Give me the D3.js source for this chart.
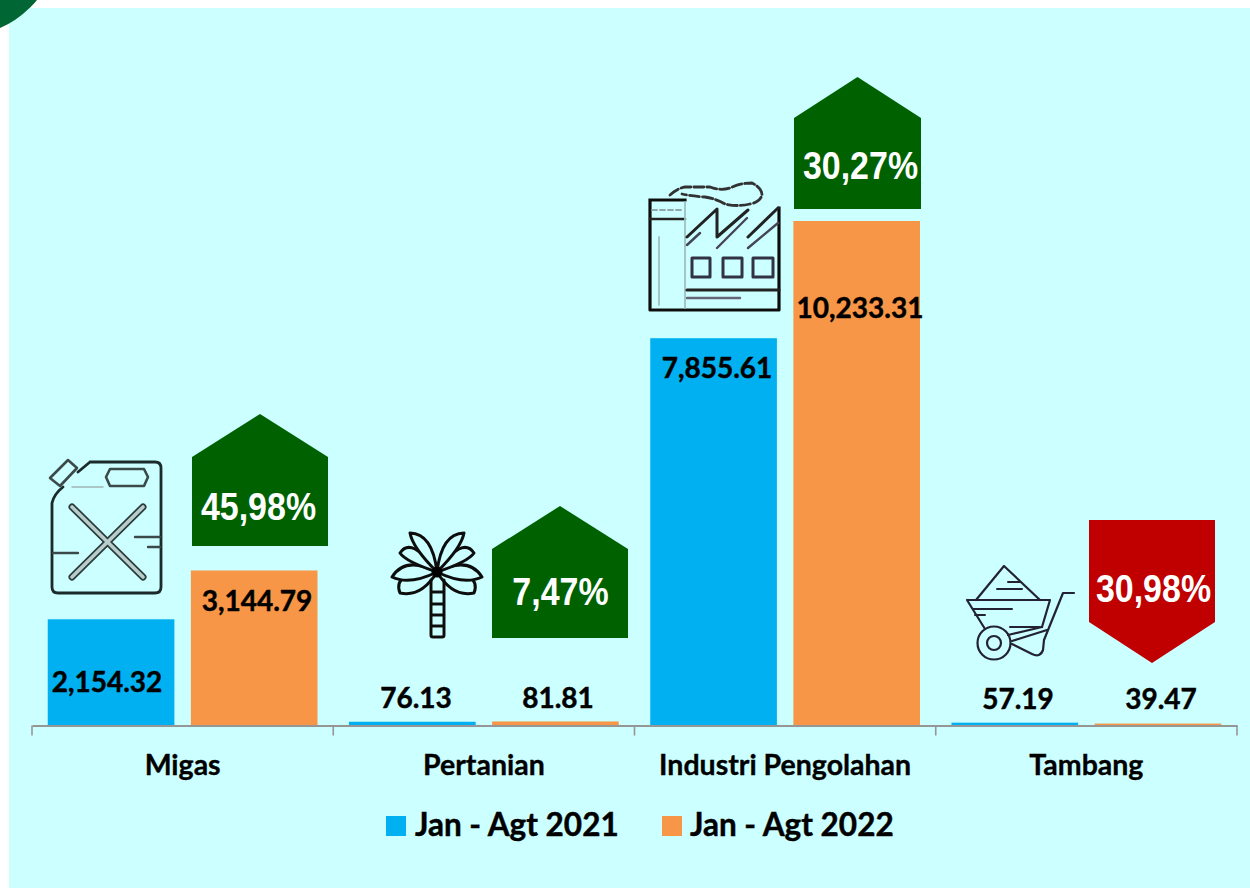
<!DOCTYPE html>
<html><head><meta charset="utf-8">
<script src="https://cdnjs.cloudflare.com/ajax/libs/d3/7.8.5/d3.min.js"></script>
<style>html,body{margin:0;padding:0;background:#fff}svg{display:block}</style>
</head><body><svg id="c" width="1250" height="888"></svg>
<script>
// ---- data ----
const categories = ["Migas", "Pertanian", "Industri Pengolahan", "Tambang"];
const seriesNames = ["Jan - Agt 2021", "Jan - Agt 2022"];
const values2021 = [2154.32, 76.13, 7855.61, 57.19];
const values2022 = [3144.79, 81.81, 10233.31, 39.47];
const changeLabels = ["45,98%", "7,47%", "30,27%", "30,98%"];
const changeDirections = ["up", "up", "up", "down"];
// ---- style / layout ----
const seriesColors = ["#00B0F0", "#F79646"];
const FONT = "Lato, Carlito, sans-serif";
const NARROW = "'Liberation Sans', sans-serif";
const valueFmt = d3.format(",.2f");
const svg = d3.select("#c");
const defs = svg.append("defs");
defs.append("filter").attr("id","soft").append("feGaussianBlur").attr("stdDeviation",0.55);

svg.append("rect").attr("x",9).attr("y",8).attr("width",1241).attr("height",880).attr("fill","#CCFFFF");
svg.append("circle").attr("cx",-40).attr("cy",-63).attr("r",99.5).attr("fill","#006633");

const x0 = d3.scaleBand().domain(categories).range([32,1237]);
const x1 = d3.scaleBand().domain([0,1]).range([0,x0.step()]).paddingInner(0.115).paddingOuter(0.11);
const y = d3.scaleLinear().domain([0,12000]).range([725.5,133.9]);
const series = [values2021, values2022];

series.forEach((vals,s)=>{
  svg.append("g").selectAll("rect").data(vals).join("rect")
    .attr("x",(d,i)=>x0(categories[i])+x1(s))
    .attr("width",x1.bandwidth())
    .attr("y",d=>y(d))
    .attr("height",d=>y(0)-y(d))
    .attr("fill",seriesColors[s]);
});

// axis
const axis = d3.axisBottom(x0).tickSize(0).tickPadding(29);
const ax = svg.append("g").attr("transform",`translate(0,${y(0)})`).call(axis);
ax.select(".domain").attr("stroke","#969696").attr("stroke-width",2);
ax.selectAll("text").attr("font-family",FONT).attr("font-weight",700).attr("font-size",28.5).attr("fill","#000")
  .attr("stroke","#000").attr("stroke-width",0.35);
svg.append("g").selectAll("line").data(d3.range(categories.length+1)).join("line")
  .attr("x1",i=>32+i*x0.step()).attr("x2",i=>32+i*x0.step())
  .attr("y1",y(0)).attr("y2",y(0)+10).attr("stroke","#969696").attr("stroke-width",1.6);

// value label anchors
const labelPos = [
  [[107,692],[257,611]],
  [[416,708],[558,708]],
  [[717,378],[860,318]],
  [[1018,709],[1161,709]]
];
series.forEach((vals,s)=>{
  svg.append("g").selectAll("text").data(vals).join("text")
    .attr("x",(d,i)=>labelPos[i][s][0]).attr("y",(d,i)=>labelPos[i][s][1])
    .attr("text-anchor","middle").attr("font-family",FONT).attr("font-weight",700)
    .attr("font-size",28).attr("fill","#000").attr("stroke","#000").attr("stroke-width",0.45).text(d=>valueFmt(d));
});

// change arrows
const arrowBoxes = [
  {l:192,r:328,tip:414,sh:457,end:546,tx:258.5,ty:520},
  {l:492,r:628,tip:506,sh:549,end:638,tx:560.5,ty:605},
  {l:794,r:921,tip:77,sh:118,end:209,tx:860.5,ty:179},
  {l:1089,r:1215,tip:663,sh:622,end:520,tx:1153.5,ty:602}
];
const ga = svg.append("g");
arrowBoxes.forEach((b,i)=>{
  const mid=(b.l+b.r)/2;
  ga.append("path").attr("d",`M${b.l},${b.end}L${b.l},${b.sh}L${mid},${b.tip}L${b.r},${b.sh}L${b.r},${b.end}Z`)
    .attr("fill",changeDirections[i]==="up"?"#006100":"#C00000");
  ga.append("text").attr("transform",`translate(${b.tx},${b.ty}) scale(0.86,1)`).attr("text-anchor","middle")
    .attr("font-family",NARROW).attr("font-weight",700).attr("font-size",39.5).attr("fill","#fff").text(changeLabels[i]);
});

// legend
const legendPos=[[386,415],[662,690]];
seriesNames.forEach((n,i)=>{
  svg.append("rect").attr("x",legendPos[i][0]).attr("y",816).attr("width",20).attr("height",20).attr("fill",seriesColors[i]);
  svg.append("text").attr("x",legendPos[i][1]).attr("y",836).attr("font-family",FONT).attr("font-weight",700)
    .attr("font-size",31.5).attr("fill","#000").attr("stroke","#000").attr("stroke-width",0.45).text(n);
});

// icons (decorative)
const icons = svg.append("g").attr("filter","url(#soft)");
const ink="#1a2a2a";
const icon=(d,w,c=ink,extra={})=>{const p=icons.append("path").attr("d",d).attr("fill","none").attr("stroke",c).attr("stroke-width",w).attr("stroke-linecap","round").attr("stroke-linejoin","round");Object.entries(extra).forEach(([k,v])=>p.attr(k,v));return p;};
// jerry can
icon("M90,462H155Q161,462 161,468V587Q161,593 155,593H58Q52,593 52,587V503Q54,494 63,487M78,472L90,462",2.8);
icon("M50,478L68,460L77,468L60,486Z",2.6,"#3a4a4a");
icon("M110,469H144L148,477L144,486H110L106,477Z",2.6,"#3a4a4a");
icon("M72,507L143,577M143,507L72,577",7,"#2a3a3a");
icon("M72,507L143,577M143,507L72,577",3.6,"#b8cccc");
icon("M53,553H78M135,537H160M148,547H160",2.4,"#3a4a4a");
icon("M72,487H103",1.5,"#a0b4b4");
// palm
const cx=437,cy=572;
const leaves=[[400,593,391.5,571.5,421.5,597.5],[392,577,405.5,555.5,409.5,585.5],[400,553,411.5,535.5,405.5,561.5],[410,533,432.5,533.5,412.5,547.5]];
leaves.forEach(([tx,ty,ax1,ay1,bx,by])=>{
  [[tx,ty,ax1,ay1,bx,by],[2*cx-tx,ty,2*cx-ax1,ay1,2*cx-bx,by]].forEach(([a,b,c,d,e,f])=>{
    icons.append("path").attr("d",`M${cx},${cy}Q${c},${d} ${a},${b}Q${e},${f} ${cx},${cy}Z`)
      .attr("fill","#CCFFFF").attr("stroke","#111").attr("stroke-width",3).attr("stroke-linejoin","round");
  });
});
icons.append("circle").attr("cx",cx).attr("cy",cy).attr("r",5.5).attr("fill","#000");
icon("M431,580V635Q431,637 433,637H442Q444,637 444,635V580M431,592H444M431,604H444M431,615H444M431,626H444",3,"#111");
// factory
icon("M650,200H685M650,200V310H779V208",3.2,"#111",{"stroke-linecap":"square"});
icon("M650,219H685",2.6,"#222");
icon("M652,210H684",1.8,"#90a8a8",{"stroke-dasharray":"5 3"});
icon("M659,237V305M685,202V308",1.8,"#a0c0c0");
icon("M687,237L717,209L717,237L748,210M748,237L778,208",3,"#222");
icon("M687,245L700,233M717,248L747,218M748,248L778,223",2.4,"#445");
icon("M692,258H710V277H692ZM723,258H742V277H723ZM753,258H773V277H753Z",3,"#334");
icon("M687,290H779",3.2,"#222");
icon("M687,298H740",2.4,"#667");
icon("M670,195Q678,188 685,187H710Q720,191 730,188Q740,183 752,183Q762,188 762,195Q760,202 750,204Q737,207 725,204Q717,199 705,197Q690,196 682,194",2.8,"#333",{"stroke-dasharray":"10 3"});
// wheelbarrow
icon("M976,600L1004,566L1040,600",2.2,"#223");
icon("M967,600H1050L1042,627M967,600L985,629",2.2,"#223");
icon("M1074,593H1063L1044,640L1043,650Q1040,658 1032,654L1012,644",2.2,"#223");
icon("M1008,635L1042,627M1012,641L1047,630",2.2,"#223");
icon("M1008,582H1020M997,589H1022M973,609H1012M975,615H985M1010,627H1040",2,"#223");
icons.append("circle").attr("cx",994).attr("cy",643).attr("r",16.5).attr("fill","none").attr("stroke","#223").attr("stroke-width",2.2);
icons.append("circle").attr("cx",994).attr("cy",643).attr("r",7).attr("fill","none").attr("stroke","#223").attr("stroke-width",2.2);
</script></body></html>
